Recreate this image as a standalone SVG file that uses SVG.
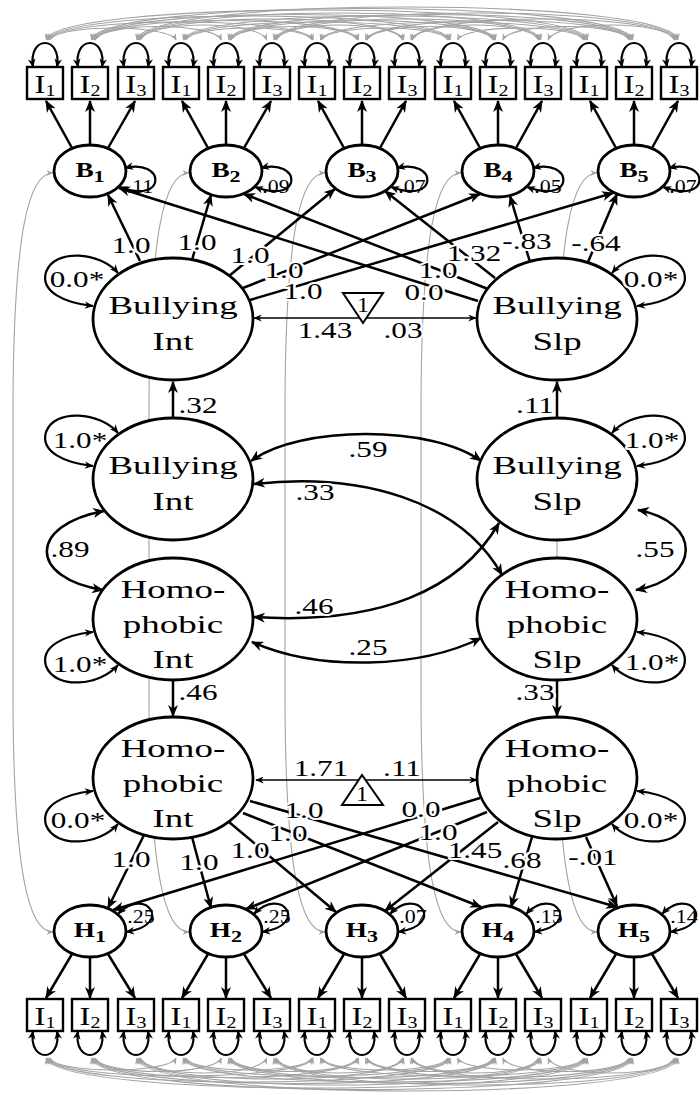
<svg xmlns="http://www.w3.org/2000/svg" xmlns:xlink="http://www.w3.org/1999/xlink" width="700" height="1095" viewBox="0 0 700 1095">
<style>
.k{fill:none;stroke:#000;stroke-width:2.5;marker-end:url(#a)}
.kb{fill:none;stroke:#000;stroke-width:2.5;marker-start:url(#a);marker-end:url(#a)}
.t{fill:none;stroke:#000;stroke-width:1.3;marker-end:url(#as)}
.g{fill:none;stroke:#a3a3a3;stroke-width:1.1;marker-start:url(#ag);marker-end:url(#ag)}
.lp{fill:none;stroke:#000;stroke-width:2.2;marker-start:url(#al);marker-end:url(#al)}
.nd{fill:#fff;stroke:#000;stroke-width:2.8}
.bx{fill:#fff;stroke:#000;stroke-width:2.4}
.tri{fill:#fff;stroke:#000;stroke-width:2}
.tx{font-family:"Liberation Serif","Times New Roman",serif;text-anchor:middle;fill:#000}
.lb{font-size:24px;stroke:#fff;stroke-width:4;stroke-linejoin:round;paint-order:stroke}
.el{font-size:26px}
.bf{font-size:21px;font-weight:bold}
.ib{font-size:26px}
.rs{font-size:19px}
.one{font-size:20px}
</style>
<defs>
<marker id="a" viewBox="0 0 12 10" refX="11" refY="5" markerWidth="12" markerHeight="10" markerUnits="userSpaceOnUse" orient="auto-start-reverse"><path d="M0,0 L12,5 L0,10 L3.5,5 Z" fill="#000"/></marker>
<marker id="as" viewBox="0 0 12 10" refX="11" refY="5" markerWidth="9" markerHeight="7" markerUnits="userSpaceOnUse" orient="auto-start-reverse"><path d="M0,0 L12,5 L0,10 L3.5,5 Z" fill="#000"/></marker>
<marker id="al" viewBox="0 0 12 10" refX="11" refY="5" markerWidth="9" markerHeight="8" markerUnits="userSpaceOnUse" orient="auto-start-reverse"><path d="M0,0 L12,5 L0,10 L3.5,5 Z" fill="#000"/></marker>
<marker id="ag" viewBox="0 0 12 10" refX="11" refY="5" markerWidth="7" markerHeight="6" markerUnits="userSpaceOnUse" orient="auto-start-reverse"><path d="M0,0 L12,5 L0,10 L3.5,5 Z" fill="#a3a3a3"/></marker>
<path id="lpT" class="lp" d="M-12,0 C-17,-32 17,-32 12,0"/>
<path id="lpB" class="lp" d="M-12,0 C-17,32 17,32 12,0"/>
<g id="arcs">
<path class="g" d="M49.8,40 C57.8,24 168.1,24 176.1,40"/>
<path class="g" d="M48.6,40 C56.6,16 305.2,16 313.2,40"/>
<path class="g" d="M47.4,40 C55.4,8 442.3,8 450.3,40"/>
<path class="g" d="M46.2,40 C54.2,0 579.4,0 587.4,40"/>
<path class="g" d="M185.7,40 C193.7,24 304,24 312,40"/>
<path class="g" d="M184.5,40 C192.5,16 441.1,16 449.1,40"/>
<path class="g" d="M183.3,40 C191.3,8 578.2,8 586.2,40"/>
<path class="g" d="M321.6,40 C329.6,24 439.9,24 447.9,40"/>
<path class="g" d="M320.4,40 C328.4,16 577,16 585,40"/>
<path class="g" d="M457.5,40 C465.5,24 575.8,24 583.8,40"/>
<path class="g" d="M95.1,40 C103.1,22 213.4,22 221.4,40"/>
<path class="g" d="M93.9,40 C101.9,14 350.5,14 358.5,40"/>
<path class="g" d="M92.7,40 C100.7,6 487.6,6 495.6,40"/>
<path class="g" d="M91.5,40 C99.5,-2 624.7,-2 632.7,40"/>
<path class="g" d="M231,40 C239,22 349.3,22 357.3,40"/>
<path class="g" d="M229.8,40 C237.8,14 486.4,14 494.4,40"/>
<path class="g" d="M228.6,40 C236.6,6 623.5,6 631.5,40"/>
<path class="g" d="M366.9,40 C374.9,22 485.2,22 493.2,40"/>
<path class="g" d="M365.7,40 C373.7,14 622.3,14 630.3,40"/>
<path class="g" d="M502.8,40 C510.8,22 621.1,22 629.1,40"/>
<path class="g" d="M140.4,40 C148.4,20 258.7,20 266.7,40"/>
<path class="g" d="M139.2,40 C147.2,12 395.8,12 403.8,40"/>
<path class="g" d="M138,40 C146,4 532.9,4 540.9,40"/>
<path class="g" d="M136.8,40 C144.8,-4 670,-4 678,40"/>
<path class="g" d="M276.3,40 C284.3,20 394.6,20 402.6,40"/>
<path class="g" d="M275.1,40 C283.1,12 531.7,12 539.7,40"/>
<path class="g" d="M273.9,40 C281.9,4 668.8,4 676.8,40"/>
<path class="g" d="M412.2,40 C420.2,20 530.5,20 538.5,40"/>
<path class="g" d="M411,40 C419,12 667.6,12 675.6,40"/>
<path class="g" d="M548.1,40 C556.1,20 666.4,20 674.4,40"/>
</g>
</defs>

<g id="residual-covariances">
<use href="#arcs" xlink:href="#arcs"/>
<use href="#arcs" xlink:href="#arcs" transform="matrix(1 0 0 -1 0 1098)"/>
<path class="g" d="M53,173 C28,173 14,235 13,400 L13,705 C14,870 28,932 53,932"/>
<path class="g" d="M189,173 C164,173 150,235 149,400 L149,705 C150,870 164,932 189,932"/>
<path class="g" d="M325,173 C300,173 286,235 285,400 L285,705 C286,870 300,932 325,932"/>
<path class="g" d="M461,173 C436,173 422,235 421,400 L421,705 C422,870 436,932 461,932"/>
<path class="g" d="M597,173 C572,173 558,235 557,400 L557,705 C558,870 572,932 597,932"/>
</g>

<g id="nodes">
<g id="B1_I1"><rect class="bx" x="27" y="67" width="36" height="32"/><text class="tx ib" transform="translate(45,93) scale(1.25,1)">I<tspan font-size="16" dy="3">1</tspan></text></g>
<g id="B1_I2"><rect class="bx" x="72" y="67" width="36" height="32"/><text class="tx ib" transform="translate(90,93) scale(1.25,1)">I<tspan font-size="16" dy="3">2</tspan></text></g>
<g id="B1_I3"><rect class="bx" x="118" y="67" width="36" height="32"/><text class="tx ib" transform="translate(136,93) scale(1.25,1)">I<tspan font-size="16" dy="3">3</tspan></text></g>
<g id="B2_I1"><rect class="bx" x="163" y="67" width="36" height="32"/><text class="tx ib" transform="translate(181,93) scale(1.25,1)">I<tspan font-size="16" dy="3">1</tspan></text></g>
<g id="B2_I2"><rect class="bx" x="208" y="67" width="36" height="32"/><text class="tx ib" transform="translate(226,93) scale(1.25,1)">I<tspan font-size="16" dy="3">2</tspan></text></g>
<g id="B2_I3"><rect class="bx" x="254" y="67" width="36" height="32"/><text class="tx ib" transform="translate(272,93) scale(1.25,1)">I<tspan font-size="16" dy="3">3</tspan></text></g>
<g id="B3_I1"><rect class="bx" x="299" y="67" width="36" height="32"/><text class="tx ib" transform="translate(317,93) scale(1.25,1)">I<tspan font-size="16" dy="3">1</tspan></text></g>
<g id="B3_I2"><rect class="bx" x="344" y="67" width="36" height="32"/><text class="tx ib" transform="translate(362,93) scale(1.25,1)">I<tspan font-size="16" dy="3">2</tspan></text></g>
<g id="B3_I3"><rect class="bx" x="389" y="67" width="36" height="32"/><text class="tx ib" transform="translate(407,93) scale(1.25,1)">I<tspan font-size="16" dy="3">3</tspan></text></g>
<g id="B4_I1"><rect class="bx" x="435" y="67" width="36" height="32"/><text class="tx ib" transform="translate(453,93) scale(1.25,1)">I<tspan font-size="16" dy="3">1</tspan></text></g>
<g id="B4_I2"><rect class="bx" x="480" y="67" width="36" height="32"/><text class="tx ib" transform="translate(498,93) scale(1.25,1)">I<tspan font-size="16" dy="3">2</tspan></text></g>
<g id="B4_I3"><rect class="bx" x="525" y="67" width="36" height="32"/><text class="tx ib" transform="translate(543,93) scale(1.25,1)">I<tspan font-size="16" dy="3">3</tspan></text></g>
<g id="B5_I1"><rect class="bx" x="571" y="67" width="36" height="32"/><text class="tx ib" transform="translate(589,93) scale(1.25,1)">I<tspan font-size="16" dy="3">1</tspan></text></g>
<g id="B5_I2"><rect class="bx" x="616" y="67" width="36" height="32"/><text class="tx ib" transform="translate(634,93) scale(1.25,1)">I<tspan font-size="16" dy="3">2</tspan></text></g>
<g id="B5_I3"><rect class="bx" x="661" y="67" width="36" height="32"/><text class="tx ib" transform="translate(679,93) scale(1.25,1)">I<tspan font-size="16" dy="3">3</tspan></text></g>

<g id="H1_I1"><rect class="bx" x="27" y="999" width="36" height="32"/><text class="tx ib" transform="translate(45,1025) scale(1.25,1)">I<tspan font-size="16" dy="3">1</tspan></text></g>
<g id="H1_I2"><rect class="bx" x="72" y="999" width="36" height="32"/><text class="tx ib" transform="translate(90,1025) scale(1.25,1)">I<tspan font-size="16" dy="3">2</tspan></text></g>
<g id="H1_I3"><rect class="bx" x="118" y="999" width="36" height="32"/><text class="tx ib" transform="translate(136,1025) scale(1.25,1)">I<tspan font-size="16" dy="3">3</tspan></text></g>
<g id="H2_I1"><rect class="bx" x="163" y="999" width="36" height="32"/><text class="tx ib" transform="translate(181,1025) scale(1.25,1)">I<tspan font-size="16" dy="3">1</tspan></text></g>
<g id="H2_I2"><rect class="bx" x="208" y="999" width="36" height="32"/><text class="tx ib" transform="translate(226,1025) scale(1.25,1)">I<tspan font-size="16" dy="3">2</tspan></text></g>
<g id="H2_I3"><rect class="bx" x="254" y="999" width="36" height="32"/><text class="tx ib" transform="translate(272,1025) scale(1.25,1)">I<tspan font-size="16" dy="3">3</tspan></text></g>
<g id="H3_I1"><rect class="bx" x="299" y="999" width="36" height="32"/><text class="tx ib" transform="translate(317,1025) scale(1.25,1)">I<tspan font-size="16" dy="3">1</tspan></text></g>
<g id="H3_I2"><rect class="bx" x="344" y="999" width="36" height="32"/><text class="tx ib" transform="translate(362,1025) scale(1.25,1)">I<tspan font-size="16" dy="3">2</tspan></text></g>
<g id="H3_I3"><rect class="bx" x="389" y="999" width="36" height="32"/><text class="tx ib" transform="translate(407,1025) scale(1.25,1)">I<tspan font-size="16" dy="3">3</tspan></text></g>
<g id="H4_I1"><rect class="bx" x="435" y="999" width="36" height="32"/><text class="tx ib" transform="translate(453,1025) scale(1.25,1)">I<tspan font-size="16" dy="3">1</tspan></text></g>
<g id="H4_I2"><rect class="bx" x="480" y="999" width="36" height="32"/><text class="tx ib" transform="translate(498,1025) scale(1.25,1)">I<tspan font-size="16" dy="3">2</tspan></text></g>
<g id="H4_I3"><rect class="bx" x="525" y="999" width="36" height="32"/><text class="tx ib" transform="translate(543,1025) scale(1.25,1)">I<tspan font-size="16" dy="3">3</tspan></text></g>
<g id="H5_I1"><rect class="bx" x="571" y="999" width="36" height="32"/><text class="tx ib" transform="translate(589,1025) scale(1.25,1)">I<tspan font-size="16" dy="3">1</tspan></text></g>
<g id="H5_I2"><rect class="bx" x="616" y="999" width="36" height="32"/><text class="tx ib" transform="translate(634,1025) scale(1.25,1)">I<tspan font-size="16" dy="3">2</tspan></text></g>
<g id="H5_I3"><rect class="bx" x="661" y="999" width="36" height="32"/><text class="tx ib" transform="translate(679,1025) scale(1.25,1)">I<tspan font-size="16" dy="3">3</tspan></text></g>

<g id="B1"><ellipse class="nd" cx="90" cy="171" rx="36" ry="26"/><text class="tx bf" transform="translate(90,177) scale(1.3,1)">B<tspan font-size="17" dy="5">1</tspan></text></g>
<g id="B2"><ellipse class="nd" cx="226" cy="171" rx="36" ry="26"/><text class="tx bf" transform="translate(226,177) scale(1.3,1)">B<tspan font-size="17" dy="5">2</tspan></text></g>
<g id="B3"><ellipse class="nd" cx="362" cy="171" rx="36" ry="26"/><text class="tx bf" transform="translate(362,177) scale(1.3,1)">B<tspan font-size="17" dy="5">3</tspan></text></g>
<g id="B4"><ellipse class="nd" cx="498" cy="171" rx="36" ry="26"/><text class="tx bf" transform="translate(498,177) scale(1.3,1)">B<tspan font-size="17" dy="5">4</tspan></text></g>
<g id="B5"><ellipse class="nd" cx="634" cy="171" rx="36" ry="26"/><text class="tx bf" transform="translate(634,177) scale(1.3,1)">B<tspan font-size="17" dy="5">5</tspan></text></g>

<g id="H1"><ellipse class="nd" cx="90" cy="931" rx="36" ry="26"/><text class="tx bf" transform="translate(90,937) scale(1.3,1)">H<tspan font-size="17" dy="5">1</tspan></text></g>
<g id="H2"><ellipse class="nd" cx="226" cy="931" rx="36" ry="26"/><text class="tx bf" transform="translate(226,937) scale(1.3,1)">H<tspan font-size="17" dy="5">2</tspan></text></g>
<g id="H3"><ellipse class="nd" cx="362" cy="931" rx="36" ry="26"/><text class="tx bf" transform="translate(362,937) scale(1.3,1)">H<tspan font-size="17" dy="5">3</tspan></text></g>
<g id="H4"><ellipse class="nd" cx="498" cy="931" rx="36" ry="26"/><text class="tx bf" transform="translate(498,937) scale(1.3,1)">H<tspan font-size="17" dy="5">4</tspan></text></g>
<g id="H5"><ellipse class="nd" cx="634" cy="931" rx="36" ry="26"/><text class="tx bf" transform="translate(634,937) scale(1.3,1)">H<tspan font-size="17" dy="5">5</tspan></text></g>

<g id="BullyingInt_growth"><ellipse class="nd" cx="173" cy="319" rx="80" ry="61"/><text class="tx el" transform="translate(173,314) scale(1.42,1)">Bullying</text><text class="tx el" transform="translate(173,350) scale(1.42,1)">Int</text></g>
<g id="BullyingSlp_growth"><ellipse class="nd" cx="557" cy="319" rx="80" ry="61"/><text class="tx el" transform="translate(557,314) scale(1.42,1)">Bullying</text><text class="tx el" transform="translate(557,350) scale(1.42,1)">Slp</text></g>
<g id="BullyingInt"><ellipse class="nd" cx="173" cy="479" rx="80" ry="61"/><text class="tx el" transform="translate(173,474) scale(1.42,1)">Bullying</text><text class="tx el" transform="translate(173,510) scale(1.42,1)">Int</text></g>
<g id="BullyingSlp"><ellipse class="nd" cx="557" cy="479" rx="80" ry="61"/><text class="tx el" transform="translate(557,474) scale(1.42,1)">Bullying</text><text class="tx el" transform="translate(557,510) scale(1.42,1)">Slp</text></g>
<g id="HomophobicInt"><ellipse class="nd" cx="173" cy="619" rx="80" ry="61"/><text class="tx el" transform="translate(173,598) scale(1.42,1)">Homo-</text><text class="tx el" transform="translate(173,633) scale(1.42,1)">phobic</text><text class="tx el" transform="translate(173,668) scale(1.42,1)">Int</text></g>
<g id="HomophobicSlp"><ellipse class="nd" cx="557" cy="619" rx="80" ry="61"/><text class="tx el" transform="translate(557,598) scale(1.42,1)">Homo-</text><text class="tx el" transform="translate(557,633) scale(1.42,1)">phobic</text><text class="tx el" transform="translate(557,668) scale(1.42,1)">Slp</text></g>
<g id="HomophobicInt_growth"><ellipse class="nd" cx="173" cy="778" rx="80" ry="61"/><text class="tx el" transform="translate(173,757) scale(1.42,1)">Homo-</text><text class="tx el" transform="translate(173,792) scale(1.42,1)">phobic</text><text class="tx el" transform="translate(173,827) scale(1.42,1)">Int</text></g>
<g id="HomophobicSlp_growth"><ellipse class="nd" cx="557" cy="778" rx="80" ry="61"/><text class="tx el" transform="translate(557,757) scale(1.42,1)">Homo-</text><text class="tx el" transform="translate(557,792) scale(1.42,1)">phobic</text><text class="tx el" transform="translate(557,827) scale(1.42,1)">Slp</text></g>
</g>

<g id="connectors">
<use href="#lpT" xlink:href="#lpT" x="45" y="67"/><use href="#lpT" xlink:href="#lpT" x="90" y="67"/><use href="#lpT" xlink:href="#lpT" x="136" y="67"/>
<use href="#lpT" xlink:href="#lpT" x="181" y="67"/><use href="#lpT" xlink:href="#lpT" x="226" y="67"/><use href="#lpT" xlink:href="#lpT" x="272" y="67"/>
<use href="#lpT" xlink:href="#lpT" x="317" y="67"/><use href="#lpT" xlink:href="#lpT" x="362" y="67"/><use href="#lpT" xlink:href="#lpT" x="407" y="67"/>
<use href="#lpT" xlink:href="#lpT" x="453" y="67"/><use href="#lpT" xlink:href="#lpT" x="498" y="67"/><use href="#lpT" xlink:href="#lpT" x="543" y="67"/>
<use href="#lpT" xlink:href="#lpT" x="589" y="67"/><use href="#lpT" xlink:href="#lpT" x="634" y="67"/><use href="#lpT" xlink:href="#lpT" x="679" y="67"/>
<use href="#lpB" xlink:href="#lpB" x="45" y="1031"/><use href="#lpB" xlink:href="#lpB" x="90" y="1031"/><use href="#lpB" xlink:href="#lpB" x="136" y="1031"/>
<use href="#lpB" xlink:href="#lpB" x="181" y="1031"/><use href="#lpB" xlink:href="#lpB" x="226" y="1031"/><use href="#lpB" xlink:href="#lpB" x="272" y="1031"/>
<use href="#lpB" xlink:href="#lpB" x="317" y="1031"/><use href="#lpB" xlink:href="#lpB" x="362" y="1031"/><use href="#lpB" xlink:href="#lpB" x="407" y="1031"/>
<use href="#lpB" xlink:href="#lpB" x="453" y="1031"/><use href="#lpB" xlink:href="#lpB" x="498" y="1031"/><use href="#lpB" xlink:href="#lpB" x="543" y="1031"/>
<use href="#lpB" xlink:href="#lpB" x="589" y="1031"/><use href="#lpB" xlink:href="#lpB" x="634" y="1031"/><use href="#lpB" xlink:href="#lpB" x="679" y="1031"/>

<path class="k" d="M72,148 L46,101"/><path class="k" d="M90,145 L90,101"/><path class="k" d="M108,148 L135,101"/>
<path class="k" d="M208,148 L182,101"/><path class="k" d="M226,145 L226,101"/><path class="k" d="M244,148 L271,101"/>
<path class="k" d="M344,148 L318,101"/><path class="k" d="M362,145 L362,101"/><path class="k" d="M380,148 L406,101"/>
<path class="k" d="M480,148 L454,101"/><path class="k" d="M498,145 L498,101"/><path class="k" d="M516,148 L542,101"/>
<path class="k" d="M616,148 L590,101"/><path class="k" d="M634,145 L634,101"/><path class="k" d="M652,148 L678,101"/>
<path class="k" d="M72,954 L46,998"/><path class="k" d="M90,957 L90,998"/><path class="k" d="M108,954 L135,998"/>
<path class="k" d="M208,954 L182,998"/><path class="k" d="M226,957 L226,998"/><path class="k" d="M244,954 L271,998"/>
<path class="k" d="M344,954 L318,998"/><path class="k" d="M362,957 L362,998"/><path class="k" d="M380,954 L406,998"/>
<path class="k" d="M480,954 L454,998"/><path class="k" d="M498,957 L498,998"/><path class="k" d="M516,954 L542,998"/>
<path class="k" d="M616,954 L590,998"/><path class="k" d="M634,957 L634,998"/><path class="k" d="M652,954 L678,998"/>

<path class="lp" d="M125,168 C165,158 168,205 119,187"/>
<path class="lp" d="M261,168 C301,158 304,205 255,187"/>
<path class="lp" d="M397,168 C437,158 440,205 391,187"/>
<path class="lp" d="M533,168 C573,158 576,205 527,187"/>
<path class="lp" d="M669,168 C709,158 712,205 663,187"/>
<path class="lp" d="M118,914 C145,885 175,925 126,932"/>
<path class="lp" d="M254,914 C281,885 311,925 262,932"/>
<path class="lp" d="M390,914 C417,885 447,925 398,932"/>
<path class="lp" d="M526,914 C553,885 583,925 534,932"/>
<path class="lp" d="M662,914 C689,885 719,925 670,932"/>

<path class="k" d="M140,261 L108,195"/>
<path class="k" d="M192,260 L211,195"/>
<path class="k" d="M229,276 L335,189"/>
<path class="k" d="M243,288 L480,194"/>
<path class="k" d="M250,300 L613,193"/>
<path class="k" d="M478,301 L119,188"/>
<path class="k" d="M488,289 L244,194"/>
<path class="k" d="M495,278 L385,191"/>
<path class="k" d="M530,262 L510,196"/>
<path class="k" d="M588,262 L617,194"/>
<path class="t" d="M363,318 L254,318"/>
<path class="t" d="M363,318 L476,318"/>

<path class="k" d="M144,835 L108,908"/>
<path class="k" d="M192,837 L211,908"/>
<path class="k" d="M229,822 L336,912"/>
<path class="k" d="M243,813 L481,907"/>
<path class="k" d="M250,801 L617,907"/>
<path class="k" d="M480,798 L113,910"/>
<path class="k" d="M487,812 L246,909"/>
<path class="k" d="M498,822 L385,911"/>
<path class="k" d="M532,837 L511,907"/>
<path class="k" d="M586,837 L617,906"/>
<path class="t" d="M362,780 L256,780"/>
<path class="t" d="M362,780 L477,780"/>

<path class="k" d="M173,418 L173,382"/>
<path class="k" d="M557,418 L557,382"/>
<path class="k" d="M173,680 L173,716"/>
<path class="k" d="M557,680 L557,716"/>

<path class="kb" d="M251,461 C300,425 432,425 481,461"/>
<path class="kb" d="M254,484 C360,472 460,500 502,575"/>
<path class="kb" d="M254,617 C380,625 460,590 499,523"/>
<path class="kb" d="M252,642 C320,672 420,668 481,638"/>
<path class="kb" d="M104,511 C28,525 28,578 103,590"/>
<path class="kb" d="M638,510 C702,522 702,578 636,590"/>

<path class="lp" d="M118,273 C100,252 55,248 46,272 C40,292 65,303 93,306"/>
<path class="lp" d="M612,273 C630,252 675,248 684,272 C690,292 665,303 637,306"/>
<path class="lp" d="M118,433 C100,412 55,408 46,432 C40,452 65,463 93,466"/>
<path class="lp" d="M612,433 C630,412 675,408 684,432 C690,452 665,463 637,466"/>
<path class="lp" d="M118,665 C100,686 55,690 46,666 C40,646 65,635 93,632"/>
<path class="lp" d="M612,665 C630,686 675,690 684,666 C690,646 665,635 637,632"/>
<path class="lp" d="M118,824 C100,845 55,849 46,825 C40,805 65,794 93,791"/>
<path class="lp" d="M612,824 C630,845 675,849 684,825 C690,805 665,794 637,791"/>

<g class="tx rs">
<text transform="translate(140,193) scale(1.15,1)">.11</text>
<text transform="translate(276,193) scale(1.15,1)">.09</text>
<text transform="translate(412,193) scale(1.15,1)">.07</text>
<text transform="translate(548,193) scale(1.15,1)">.05</text>
<text transform="translate(683,193) scale(1.15,1)">.07</text>
<text transform="translate(141,923) scale(1.15,1)">.25</text>
<text transform="translate(277,923) scale(1.15,1)">.25</text>
<text transform="translate(413,923) scale(1.15,1)">.07</text>
<text transform="translate(549,923) scale(1.15,1)">.15</text>
<text transform="translate(684,923) scale(1.15,1)">.14</text>
</g>
<g class="tx lb">
<text transform="translate(131,253) scale(1.3,1)">1.0</text>
<text transform="translate(197,250) scale(1.3,1)">1.0</text>
<text transform="translate(250,263) scale(1.3,1)">1.0</text>
<text transform="translate(284,278) scale(1.3,1)">1.0</text>
<text transform="translate(303,299) scale(1.3,1)">1.0</text>
<text transform="translate(424,300) scale(1.3,1)">0.0</text>
<text transform="translate(438,278) scale(1.3,1)">1.0</text>
<text transform="translate(474,261) scale(1.3,1)">1.32</text>
<text transform="translate(527,249) scale(1.3,1)">-.83</text>
<text transform="translate(596,251) scale(1.3,1)">-.64</text>
<text transform="translate(77,287) scale(1.3,1)">0.0*</text>
<text transform="translate(651,287) scale(1.3,1)">0.0*</text>
<text transform="translate(325,338) scale(1.3,1)">1.43</text>
<text transform="translate(403,338) scale(1.3,1)">.03</text>
<text transform="translate(198,413) scale(1.3,1)">.32</text>
<text transform="translate(535,413) scale(1.3,1)">.11</text>
<text transform="translate(80,448) scale(1.3,1)">1.0*</text>
<text transform="translate(652,448) scale(1.3,1)">1.0*</text>
<text transform="translate(368,457) scale(1.3,1)">.59</text>
<text transform="translate(315,500) scale(1.3,1)">.33</text>
<text transform="translate(70,557) scale(1.3,1)">.89</text>
<text transform="translate(655,557) scale(1.3,1)">.55</text>
<text transform="translate(314,614) scale(1.3,1)">.46</text>
<text transform="translate(368,655) scale(1.3,1)">.25</text>
<text transform="translate(80,672) scale(1.3,1)">1.0*</text>
<text transform="translate(652,670) scale(1.3,1)">1.0*</text>
<text transform="translate(198,700) scale(1.3,1)">.46</text>
<text transform="translate(535,700) scale(1.3,1)">.33</text>
<text transform="translate(321,776) scale(1.3,1)">1.71</text>
<text transform="translate(402,776) scale(1.3,1)">.11</text>
<text transform="translate(78,828) scale(1.3,1)">0.0*</text>
<text transform="translate(651,828) scale(1.3,1)">0.0*</text>
<text transform="translate(131,867) scale(1.3,1)">1.0</text>
<text transform="translate(199,870) scale(1.3,1)">1.0</text>
<text transform="translate(250,858) scale(1.3,1)">1.0</text>
<text transform="translate(288,841) scale(1.3,1)">1.0</text>
<text transform="translate(304,818) scale(1.3,1)">1.0</text>
<text transform="translate(421,817) scale(1.3,1)">0.0</text>
<text transform="translate(438,840) scale(1.3,1)">1.0</text>
<text transform="translate(475,858) scale(1.3,1)">1.45</text>
<text transform="translate(522,868) scale(1.3,1)">.68</text>
<text transform="translate(593,865) scale(1.3,1)">-.01</text>
</g>
</g>

<g id="constant_bullying"><polygon class="tri" points="343,293 383,293 363,323"/><text class="tx one" transform="translate(363,312) scale(1.2,1)">1</text></g>
<g id="constant_homophobic"><polygon class="tri" points="342,805 383,805 362,775"/><text class="tx one" transform="translate(362,801) scale(1.2,1)">1</text></g>
</svg>
